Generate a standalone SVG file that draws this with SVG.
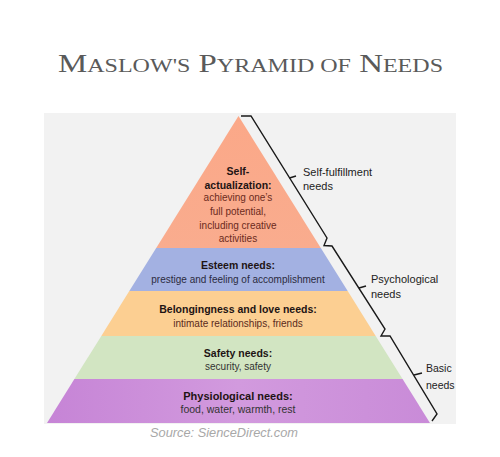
<svg xmlns="http://www.w3.org/2000/svg" width="500" height="457" viewBox="0 0 500 457">
<defs>
<style>
.h{font-family:"Liberation Sans",Arial,sans-serif;font-weight:bold;font-size:10.5px;fill:#1e1414;text-anchor:middle}
.d{font-family:"Liberation Sans",Arial,sans-serif;font-size:10px;fill:#333;text-anchor:middle}
.lbl{font-family:"Liberation Sans",Arial,sans-serif;font-size:11px;fill:#222}
.br{fill:none;stroke:#1a1a1a;stroke-width:1.4;stroke-linejoin:miter}
</style>
<clipPath id="panel"><rect x="44" y="113" width="412" height="311"/></clipPath>
<linearGradient id="gTop" x1="0" y1="0" x2="0" y2="1"><stop offset="0" stop-color="#fba888"/><stop offset="1" stop-color="#f9ac8e"/></linearGradient>
<linearGradient id="gPhys" x1="0" y1="0" x2="1" y2="0"><stop offset="0" stop-color="#c684d6"/><stop offset="0.5" stop-color="#d29ade"/><stop offset="1" stop-color="#c98bd8"/></linearGradient>
</defs>
<rect width="500" height="457" fill="#ffffff"/>
<text x="58" y="72" font-family="'Liberation Serif',serif" font-size="26" fill="#5a5a5a" textLength="385" lengthAdjust="spacingAndGlyphs">M<tspan font-size="19">ASLOW'S</tspan> P<tspan font-size="19">YRAMID OF</tspan> N<tspan font-size="19">EEDS</tspan></text>
<rect x="44" y="113" width="412" height="311" fill="#f2f2f2"/>
<g id="self-actualization">
<polygon points="238.5,116 320.8,248 156.2,248" fill="url(#gTop)"/>
<text class="h" x="238" y="175">Self-</text>
<text class="h" x="238" y="189">actualization:</text>
<text class="d" x="238" y="201" style="fill:#6b2a20">achieving one’s</text>
<text class="d" x="238" y="215" style="fill:#6b2a20">full potential,</text>
<text class="d" x="238" y="229" style="fill:#6b2a20">including creative</text>
<text class="d" x="238" y="242" style="fill:#6b2a20">activities</text>
</g>
<g id="esteem">
<polygon points="156.2,248 320.8,248 347.7,291 129.3,291" fill="#a3b1e2"/>
<text class="h" x="238" y="269">Esteem needs:</text>
<text class="d" x="238" y="283" style="fill:#2b2b40">prestige and feeling of accomplishment</text>
</g>
<g id="belonging">
<polygon points="129.3,291 347.7,291 375.7,336 101.3,336" fill="#fccf92"/>
<text class="h" x="238" y="313">Belongingness and love needs:</text>
<text class="d" x="238" y="327" style="fill:#5a2a20">intimate relationships, friends</text>
</g>
<g id="safety">
<polygon points="101.3,336 375.7,336 402.6,379 74.4,379" fill="#d2e5c2"/>
<text class="h" x="238" y="357">Safety needs:</text>
<text class="d" x="238" y="370">security, safety</text>
</g>
<g id="physiological">
<polygon points="74.4,379 402.6,379 430,423 47,423" fill="url(#gPhys)"/>
<text class="h" x="238" y="400" style="font-size:11px">Physiological needs:</text>
<text class="d" x="238" y="413" style="font-size:10.5px">food, water, warmth, rest</text>
</g>
<g id="connectors">
<path class="br" d="M241,116 H251 L327,238 L324,245.5 L332,246 L385,329 L381,336 L390,336 L437,414 L432,421"/>
<path class="br" d="M289.5,178 L296,176"/>
<path class="br" d="M359,288 L366,286"/>
<path class="br" d="M414,375 L422,373"/>
</g>
<g id="labels" clip-path="url(#panel)">
<text class="lbl" x="303" y="176">Self-fulfillment</text>
<text class="lbl" x="303" y="190">needs</text>
<text class="lbl" x="371" y="283">Psychological</text>
<text class="lbl" x="371" y="298">needs</text>
<text class="lbl" x="426" y="372" style="font-size:10.5px">Basic</text>
<text class="lbl" x="426" y="389" style="font-size:10.5px">needs</text>
</g>
<text x="150" y="437" font-family="'Liberation Sans',Arial,sans-serif" font-style="italic" font-size="13" fill="#a8a8a8" textLength="148" lengthAdjust="spacingAndGlyphs">Source: SienceDirect.com</text>
</svg>
